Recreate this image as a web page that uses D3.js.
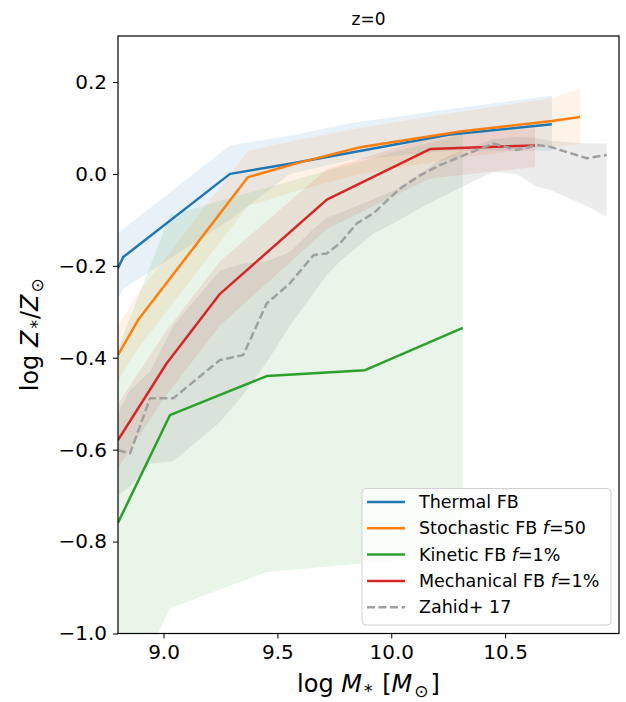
<!DOCTYPE html>
<html><head><meta charset="utf-8">
<script src="https://cdn.jsdelivr.net/npm/d3@7"></script>
<style>
html,body{margin:0;padding:0;background:#fff;}
text{font-family:"DejaVu Sans",sans-serif;fill:#000;}
</style></head>
<body><svg id="c" width="626" height="702"></svg>
<script>
// ---------- data ----------
const thermalX = [8.80, 8.823, 9.292, 9.555, 9.82, 10.25, 10.705];
const thermalY = [-0.205, -0.181, 0.0, 0.022, 0.046, 0.085, 0.108];
const thermalLo = [-0.27, -0.25, -0.10, 0.0, 0.03, 0.05, 0.05];
const thermalHi = [-0.13, -0.12, 0.062, 0.083, 0.11, 0.14, 0.17];

const stochX = [8.80, 8.888, 9.371, 9.6, 9.863, 10.302, 10.705, 10.829];
const stochY = [-0.394, -0.318, -0.007, 0.025, 0.058, 0.092, 0.115, 0.124];
const stochLo = [-0.45, -0.38, -0.07, -0.035, 0.0, 0.035, 0.06, 0.065];
const stochHi = [-0.33, -0.26, 0.05, 0.075, 0.10, 0.135, 0.165, 0.185];

const kinX = [8.80, 9.028, 9.453, 9.885, 10.314];
const kinY = [-0.759, -0.525, -0.44, -0.427, -0.335];
const kinLo = [-1.18, -0.945, -0.866, -0.847, -0.83];
const kinHi = [-0.38, -0.09, -0.03, 0.03, 0.087];

const mechX = [8.80, 9.014, 9.248, 9.717, 10.17, 10.631];
const mechY = [-0.579, -0.412, -0.261, -0.056, 0.054, 0.062];
const mechLo = [-0.64, -0.48, -0.33, -0.12, -0.01, 0.015];
const mechHi = [-0.50, -0.34, -0.19, 0.01, 0.08, 0.10];

const zahidX = [8.80, 8.853, 8.941, 9.043, 9.248, 9.35, 9.453, 9.555, 9.658, 9.717, 9.775, 9.848, 9.921, 10.038, 10.126, 10.214, 10.302, 10.448, 10.551, 10.639, 10.697, 10.858, 10.946];
const zahidY = [-0.601, -0.608, -0.488, -0.488, -0.405, -0.394, -0.282, -0.238, -0.177, -0.173, -0.151, -0.108, -0.086, -0.032, -0.003, 0.019, 0.037, 0.066, 0.052, 0.063, 0.059, 0.034, 0.041];
const zahidLo = [-0.70, -0.68, -0.63, -0.625, -0.54, -0.48, -0.41, -0.33, -0.26, -0.22, -0.19, -0.16, -0.13, -0.10, -0.075, -0.052, -0.03, 0.004, 0.0, -0.028, -0.035, -0.07, -0.093];
const zahidHi = [-0.52, -0.47, -0.43, -0.33, -0.21, -0.195, -0.19, -0.17, -0.12, -0.095, -0.085, -0.07, -0.055, -0.03, 0.0, 0.03, 0.05, 0.076, 0.08, 0.078, 0.072, 0.066, 0.066];

const xTicks = [9.0, 9.5, 10.0, 10.5];
const yTicks = [-1.0, -0.8, -0.6, -0.4, -0.2, 0.0, 0.2];

const seriesNames = ["Thermal FB", "Stochastic FB", "Kinetic FB", "Mechanical FB", "Zahid+ 17"];
const seriesColors = ["#1f77b4", "#ff7f0e", "#2ca02c", "#d62728", "#a0a0a0"];
const bandColors = ["#1f77b4", "#ff7f0e", "#2ca02c", "#d62728", "#808080"];

// ---------- layout ----------
const L = 118, T = 36, R = 619, B = 633.5;
const svg = d3.select("#c");
const x = d3.scaleLinear().domain([8.8, 11.0]).range([L, R]);
const y = d3.scaleLinear().domain([-1.0, 0.3]).range([B, T]);

svg.append("defs").append("clipPath").attr("id", "clip")
  .append("rect").attr("x", L).attr("y", T).attr("width", R - L).attr("height", B - T);

const series = [
  {xs: thermalX, ys: thermalY, lo: thermalLo, hi: thermalHi},
  {xs: stochX, ys: stochY, lo: stochLo, hi: stochHi},
  {xs: kinX, ys: kinY, lo: kinLo, hi: kinHi},
  {xs: mechX, ys: mechY, lo: mechLo, hi: mechHi},
  {xs: zahidX, ys: zahidY, lo: zahidLo, hi: zahidHi}
];

const g = svg.append("g").attr("clip-path", "url(#clip)");
const area = d3.area().x(d => x(d[0])).y0(d => y(d[1])).y1(d => y(d[2]));
const line = d3.line().x(d => x(d[0])).y(d => y(d[1]));

series.forEach((s, i) => {
  const pts = s.xs.map((v, k) => [v, s.lo[k], s.hi[k]]);
  g.append("path").attr("d", area(pts))
    .attr("fill", bandColors[i]).attr("fill-opacity", i === 4 ? 0.15 : 0.1).attr("stroke", "none");
});
series.forEach((s, i) => {
  const pts = s.xs.map((v, k) => [v, s.ys[k]]);
  const p = g.append("path").attr("d", line(pts)).attr("fill", "none")
    .attr("stroke", seriesColors[i]).attr("stroke-width", 2.5)
    .attr("stroke-linejoin", "round").attr("stroke-linecap", "butt");
  if (i === 4) p.attr("stroke-dasharray", "8,3.5");
});

// axes
const xa = svg.append("g").attr("transform", `translate(0,${B})`)
  .call(d3.axisBottom(x).tickValues(xTicks).tickFormat(d3.format(".1f")).tickSize(5).tickPadding(6));
const ya = svg.append("g").attr("transform", `translate(${L},0)`)
  .call(d3.axisLeft(y).tickValues(yTicks).tickFormat(d3.format(".1f")).tickSize(5).tickPadding(6));
[xa, ya].forEach(a => {
  a.select(".domain").remove();
  a.selectAll("line").attr("stroke", "#000").attr("stroke-width", 1);
  a.selectAll("text").attr("font-size", 20).attr("font-family", "DejaVu Sans");
});
svg.append("rect").attr("x", L).attr("y", T).attr("width", R - L).attr("height", B - T)
  .attr("fill", "none").attr("stroke", "#000").attr("stroke-width", 1.2);

// title
svg.append("text").attr("x", (L + R) / 2).attr("y", 25).attr("text-anchor", "middle")
  .attr("font-size", 17).text("z=0");

// x label
const xl = svg.append("text").attr("x", (L + R) / 2).attr("y", 692).attr("text-anchor", "middle").attr("font-size", 24);
xl.append("tspan").text("log ");
xl.append("tspan").attr("font-style", "italic").text("M");
xl.append("tspan").attr("font-size", 17).attr("dy", 5).attr("dx", 2).text("*");
xl.append("tspan").attr("dy", -5).attr("dx", 2).text(" [");
xl.append("tspan").attr("font-style", "italic").text("M");
xl.append("tspan").attr("font-size", 17).attr("dy", 5).attr("dx", 2).text("⊙");
xl.append("tspan").attr("dy", -5).attr("dx", 2).text("]");

// y label
const yl = svg.append("text").attr("transform", `translate(38,${(T + B) / 2}) rotate(-90)`)
  .attr("text-anchor", "middle").attr("font-size", 24);
yl.append("tspan").text("log ");
yl.append("tspan").attr("font-style", "italic").text("Z");
yl.append("tspan").attr("font-size", 17).attr("dy", 5).attr("dx", 2).text("*");
yl.append("tspan").attr("dy", -5).attr("dx", 1).text("/");
yl.append("tspan").attr("font-style", "italic").text("Z");
yl.append("tspan").attr("font-size", 17).attr("dy", 5).attr("dx", 2).text("⊙");

// legend
const legendLabels = [
  ["Thermal FB"],
  ["Stochastic FB ", "f", "=50"],
  ["Kinetic FB ", "f", "=1%"],
  ["Mechanical FB ", "f", "=1%"],
  ["Zahid+ 17"]
];
const lg = svg.append("g");
lg.append("rect").attr("x", 362).attr("y", 488.5).attr("width", 249).attr("height", 136.5)
  .attr("rx", 4).attr("fill", "#fff").attr("fill-opacity", 0.8).attr("stroke", "#d0d0d0").attr("stroke-width", 1);
legendLabels.forEach((parts, i) => {
  const yy = 502 + i * 26.3;
  const ln = lg.append("line").attr("x1", 367).attr("x2", 405).attr("y1", yy).attr("y2", yy)
    .attr("stroke", seriesColors[i]).attr("stroke-width", 2.5);
  if (i === 4) ln.attr("stroke-dasharray", "8,3.5");
  const t = lg.append("text").attr("x", 419).attr("y", yy + 6).attr("font-size", 17.5);
  parts.forEach((p, k) => {
    const ts = t.append("tspan").text(p);
    if (k === 1) ts.attr("font-style", "italic");
  });
});
</script></body></html>
